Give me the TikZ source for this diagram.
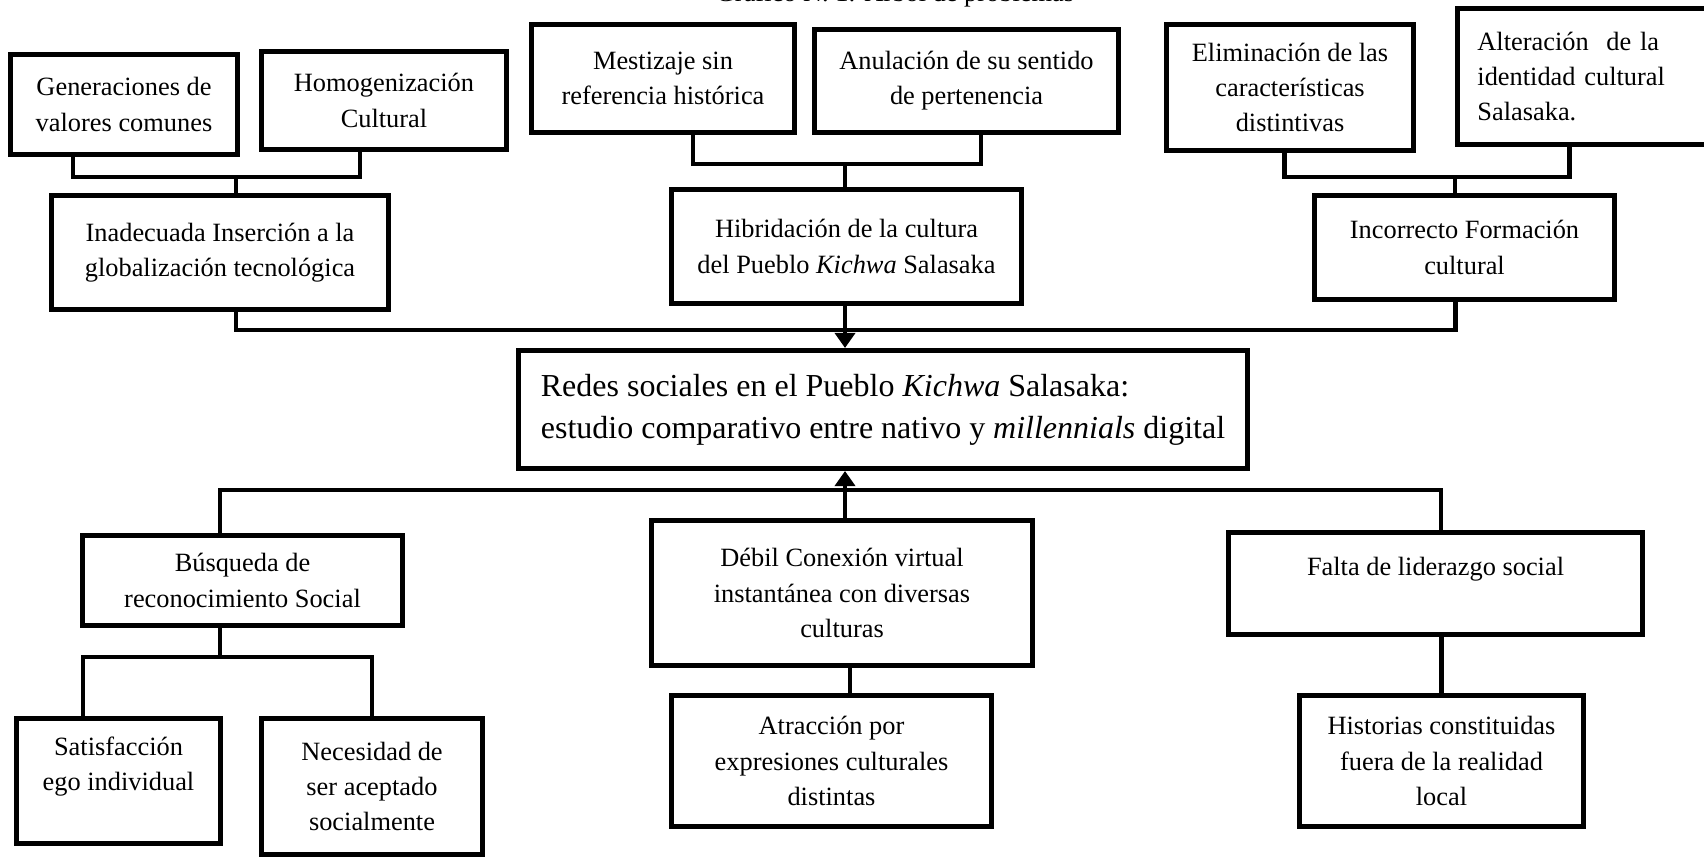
\documentclass[tikz,border=0pt]{standalone}
\usepackage{fontspec}
\setmainfont{Liberation Serif}
\usetikzlibrary{arrows.meta,calc}

\begin{document}
\begin{tikzpicture}[x=0.01cm, y=-0.01cm, every node/.style={font=\fontsize{7.5}{10}\selectfont}, box/.style={draw, line width=1.4pt, align=center}, goal/.style={box, align=left, font=\fontsize{9.1}{12}\selectfont}, link/.style={line width=1.4pt}, tip/.style={-{Triangle[length=4.3pt,width=5.7pt]}}]
\useasboundingbox (0,0) rectangle (1704,858);
\node[anchor=base] (title) at (895,2) {Gráfico N. 1: Árbol de problemas};
\node[box, minimum width=2.27cm, minimum height=1.00cm] (gen) at (124,104.5) {Generaciones de\\valores comunes};
\node[box, minimum width=2.45cm, minimum height=0.98cm] (hom) at (384,100.5) {Homogenización\\Cultural};
\node[box, minimum width=3.37cm, minimum height=1.14cm] (inad) at (220,252.5) {Inadecuada Inserción a la\\globalización tecnológica};
\node[box, minimum width=2.63cm, minimum height=1.08cm] (mest) at (663,78.5) {Mestizaje sin\\referencia histórica};
\node[box, minimum width=3.04cm, minimum height=1.03cm] (anul) at (966.5,81) {Anulación de su sentido\\de pertenencia};
\node[box, minimum width=3.50cm, minimum height=1.14cm] (hib) at (846.5,246.5) {Hibridación de la cultura\\del Pueblo \textit{Kichwa} Salasaka};
\node[box, minimum width=2.47cm, minimum height=1.26cm] (elim) at (1290,87.5) {Eliminación de las\\características\\distintivas};
\node[box, align=left, text width=2.6cm, minimum width=3.00cm, minimum height=1.36cm] (alt) at (1607.5,76.5) {Alteración~ de la\\identidad cultural\\Salasaka.};
\node[box, minimum width=3.00cm, minimum height=1.04cm] (inco) at (1464.5,247.5) {Incorrecto Formación\\cultural};
\node[goal, minimum width=7.29cm, minimum height=1.18cm] (main) at (883,409.5) {Redes sociales en el Pueblo \textit{Kichwa} Salasaka:\\estudio comparativo entre nativo y \textit{millennials} digital};
\node[box, minimum width=3.20cm, minimum height=0.90cm] (busq) at (242.5,580.5) {Búsqueda de\\reconocimiento Social};
\node[box, minimum width=3.81cm, minimum height=1.45cm] (debil) at (842,593) {Débil Conexión virtual\\instantánea con diversas\\culturas};
\node[box, minimum width=4.14cm, minimum height=1.02cm] (falta) at (1435.5,583.5) {Falta de liderazgo social\\\mbox{}};
\node[box, minimum width=2.04cm, minimum height=1.25cm] (satis) at (118.5,781) {Satisfacción\\ego individual\\\mbox{}};
\node[box, minimum width=2.21cm, minimum height=1.36cm] (nece) at (372,786.5) {Necesidad de\\ser aceptado\\socialmente};
\node[box, minimum width=3.20cm, minimum height=1.31cm] (atra) at (831.5,761) {Atracción por\\expresiones culturales\\distintas};
\node[box, minimum width=2.84cm, minimum height=1.31cm] (hist) at (1441.5,761) {Historias constituidas\\fuera de la realidad\\local};
% junctions
\coordinate (tl) at (236,177);
\coordinate (tm) at (845,164);
\coordinate (tr) at (1455,177);
\coordinate (mb) at (845,330);
\coordinate (bb) at (845,490);
\coordinate (sb) at (220,657);
% causes
\draw[link] ($(gen.south)+(-51,0)$) |- (tl) -| ($(hom.south)+(-24,0)$);
\draw[link] (tl) -- (tl |- inad.north);
\draw[link] ($(mest.south)+(30,0)$) |- (tm) -| ($(anul.south)+(14.5,0)$);
\draw[link] (tm) -- (tm |- hib.north);
\draw[link] ($(elim.south)+(-5.5,0)$) |- (tr) -| ($(alt.south west)+(114.5,0)$);
\draw[link] (tr) -- (tr |- inco.north);
\draw[link] ($(inad.south)+(16,0)$) |- (mb) -| ($(inco.south)+(-9,0)$);
\draw[link,tip] (tm |- hib.south) -- (tm |- main.north);
% effects
\draw[link,tip] (bb |- debil.north) -- (bb |- main.south);
\draw[link] ($(busq.north)+(-22.5,0)$) |- (bb) -| ($(falta.north)+(5.5,0)$);
\draw[link] (sb |- busq.south) -- (sb);
\draw[link] ($(satis.north)+(-35.5,0)$) |- (sb) -| (nece.north);
\draw[link] ($(debil.south)+(8,0)$) -- ($(atra.north)+(18.5,0)$);
\draw[link] (falta.south -| hist.north) -- (hist.north);
\end{tikzpicture}
\end{document}
